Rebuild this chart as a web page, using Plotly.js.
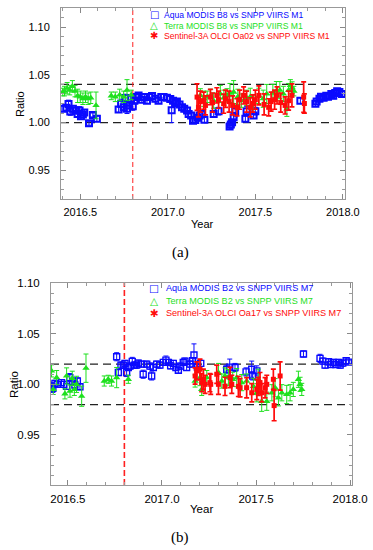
<!DOCTYPE html>
<html><head><meta charset="utf-8">
<script src="https://cdn.plot.ly/plotly-3.0.1.min.js"></script>
<style>html,body{margin:0;padding:0;background:#fff}#chart{width:373px;height:550px}</style>
</head><body><div id="chart"></div>
<script>
// ---------- Panel (a): M1 ----------
const aquaA_x=[2016.405,2016.42,2016.433,2016.443,2016.458,2016.471,2016.485,2016.496,2016.504,2016.515,2016.523,2016.55,2016.572,2016.595,
2016.719,2016.733,2016.748,2016.757,2016.767,2016.778,2016.79,2016.80,2016.809,2016.824,2016.833,2016.852,2016.866,2016.881,2016.896,2016.91,2016.929,2016.947,2016.963,2016.976,2016.995,2017.014,2017.022,2017.03,2017.043,2017.052,2017.067,2017.081,2017.094,2017.11,2017.119,2017.133,2017.144,2017.157,2017.17,2017.182,2017.195,2017.209,
2017.262,2017.29,2017.353,2017.36,2017.367,2017.376,2017.385,2017.443,2017.45,2017.49,2017.50,
2017.757,2017.843,2017.85,2017.866,2017.875,2017.89,2017.905,2017.915,2017.934,2017.945,2017.956,2017.967,2017.98,2017.995];
const aquaA_y=[1.0145,1.0155,1.0195,1.0116,1.0145,1.0127,1.009,1.0127,1.0067,1.0085,1.0106,0.9993,1.008,1.004,
1.0137,1.0198,1.016,1.0257,1.0145,1.018,1.025,1.017,1.023,1.0267,1.0285,1.024,1.0267,1.023,1.0267,1.0278,1.025,1.023,1.0267,1.0267,1.026,1.0246,1.013,1.023,1.0204,1.022,1.019,1.016,1.0145,1.0127,1.009,1.0074,1.002,1.0028,1.005,1.0074,1.009,1.003,
1.009,1.012,0.996,0.998,1.0003,1.0056,1.012,1.004,1.012,1.0074,1.012,
1.023,1.0198,1.022,1.025,1.027,1.026,1.028,1.027,1.030,1.028,1.031,1.0328,1.032,1.030];
const aquaA_err=[0.003,0.003,0.004,0.004,0.003,0.003,0.003,0.004,0.003,0.003,0.003,0.002,0.002,0.003,
0.003,0.004,0.003,0.004,0.005,0.003,0.003,0.004,0.003,0.003,0.003,0.003,0.003,0.003,0.003,0.003,0.003,0.003,0.003,0.003,0.003,0.003,0.013,0.003,0.003,0.003,0.003,0.003,0.003,0.003,0.003,0.003,0.003,0.003,0.003,0.004,0.003,0.003,
0.003,0.004,0.003,0.004,0.003,0.005,0.006,0.003,0.005,0.003,0.004,
0.003,0.003,0.003,0.003,0.003,0.003,0.003,0.003,0.003,0.003,0.003,0.003,0.003,0.003];

const terraA_x=[2016.40,2016.41,2016.425,2016.44,2016.455,2016.47,2016.485,2016.50,2016.515,2016.53,2016.545,2016.56,2016.59,
2016.677,2016.70,2016.725,2016.748,2016.767,2016.791,
2017.186,2017.205,2017.225,2017.245,2017.262,2017.30,2017.32,2017.338,2017.355,2017.376,2017.40,2017.42,2017.45,2017.471,2017.49,2017.52,2017.545,2017.565,2017.60,2017.62,2017.64,2017.66,2017.68,2017.69,2017.70,2017.71,2017.72];
const terraA_y=[1.032,1.033,1.036,1.034,1.038,1.033,1.028,1.027,1.025,1.027,1.025,1.026,1.018,
1.028,1.027,1.029,1.027,1.034,1.029,
1.0285,1.025,1.027,1.028,1.023,1.030,1.026,1.0285,1.031,1.032,1.027,1.023,1.026,1.027,1.0215,1.028,1.025,1.030,1.031,1.033,1.034,1.030,1.0145,1.034,1.039,1.0367,1.033];
const terraA_err=[0.004,0.005,0.006,0.005,0.006,0.006,0.007,0.006,0.006,0.006,0.006,0.006,0.014,
0.004,0.005,0.006,0.006,0.011,0.005,
0.007,0.008,0.006,0.007,0.008,0.009,0.008,0.007,0.010,0.012,0.008,0.007,0.008,0.009,0.008,0.008,0.009,0.010,0.009,0.010,0.009,0.008,0.008,0.007,0.006,0.006,0.005];

const sentA_x=[2017.167,2017.175,2017.186,2017.205,2017.215,2017.243,2017.255,2017.28,2017.29,2017.319,2017.33,2017.35,2017.37,2017.395,2017.41,2017.433,2017.45,2017.471,2017.485,2017.50,2017.52,2017.55,2017.576,2017.59,2017.61,2017.624,2017.645,2017.67,2017.69,2017.709,2017.776,2017.78];
const sentA_y=[1.0267,1.016,1.022,1.023,1.018,1.0267,1.021,1.0285,1.024,1.0198,1.025,1.022,1.018,1.016,1.024,1.0285,1.022,1.016,1.020,1.024,1.0285,1.019,1.016,1.022,1.024,1.0285,1.021,1.018,1.023,1.0285,1.0267,1.020];
const sentA_err=[0.014,0.01,0.011,0.009,0.01,0.008,0.01,0.008,0.009,0.01,0.009,0.011,0.01,0.009,0.01,0.009,0.011,0.01,0.009,0.01,0.01,0.011,0.009,0.01,0.01,0.009,0.01,0.009,0.01,0.012,0.016,0.01];

// ---------- Panel (b): M7 ----------
const aquaB_x=[2016.413,2016.42,2016.431,2016.443,2016.466,2016.478,2016.493,2016.51,2016.525,2016.537,2016.55,2016.564,
2016.759,2016.768,2016.782,2016.794,2016.803,2016.812,2016.821,2016.83,2016.842,2016.853,2016.865,2016.874,2016.892,2016.90,2016.919,2016.936,2016.945,2016.954,2016.972,2016.989,2017.007,2017.021,2017.034,2017.046,2017.06,2017.074,2017.087,2017.096,2017.113,2017.122,2017.131,2017.149,2017.163,2017.17,2017.188,2017.206,
2017.344,2017.36,2017.388,2017.447,2017.477,2017.482,2017.504,
2017.752,2017.84,2017.855,2017.867,2017.885,2017.897,2017.911,2017.924,2017.938,2017.947,2017.961,2017.979,2017.991];
const aquaB_y=[0.998,0.996,1.001,1.000,1.0017,1.000,0.998,1.0067,1.0027,0.9993,1.0033,0.9976,
1.0273,1.0117,1.019,1.019,1.0207,1.0117,1.0167,1.018,1.0227,1.019,1.019,1.021,1.020,1.010,1.020,1.018,1.0083,1.0167,1.020,1.019,1.0217,1.024,1.0217,1.0183,1.0207,1.0167,1.014,1.018,1.0217,1.023,1.0167,1.020,1.0233,1.029,1.017,1.0207,
1.015,1.017,1.0167,1.0123,1.015,1.0083,1.0133,
1.030,1.0257,1.023,1.019,1.0223,1.0197,1.0217,1.0197,1.0217,1.019,1.021,1.0233,1.022];
const aquaB_err=[0.004,0.004,0.003,0.003,0.003,0.003,0.003,0.004,0.003,0.003,0.003,0.003,
0.004,0.003,0.003,0.003,0.003,0.004,0.003,0.003,0.004,0.003,0.003,0.003,0.003,0.004,0.003,0.003,0.004,0.003,0.003,0.003,0.003,0.004,0.003,0.003,0.003,0.003,0.003,0.003,0.003,0.003,0.003,0.003,0.003,0.011,0.003,0.003,
0.004,0.008,0.004,0.004,0.008,0.004,0.005,
0.003,0.004,0.003,0.003,0.003,0.003,0.003,0.003,0.003,0.003,0.003,0.003,0.002];

const terraB_x=[2016.413,2016.422,2016.44,2016.484,2016.493,2016.511,2016.523,2016.534,2016.546,2016.573,2016.596,
2016.693,2016.714,2016.732,2016.759,2016.821,
2017.176,2017.202,2017.211,2017.238,2017.30,2017.318,2017.335,2017.353,2017.376,2017.397,2017.424,2017.45,2017.486,2017.504,2017.512,2017.53,2017.557,2017.584,2017.601,2017.619,2017.637,2017.663,2017.681,2017.698,2017.725,2017.734,2017.743];
const terraB_y=[1.0133,0.995,1.0067,0.9906,1.0083,0.9933,1.006,0.995,1.000,0.9883,1.016,
1.0033,1.005,1.0033,1.0067,1.005,
1.0033,1.0067,0.995,1.0067,1.0117,1.0033,1.0083,1.0067,1.005,1.0067,1.0017,1.0033,0.998,0.9917,1.005,0.9833,0.9833,0.9917,0.9967,0.9867,0.9917,0.990,0.9917,0.995,1.005,1.000,0.995];
const terraB_err=[0.006,0.005,0.007,0.005,0.008,0.006,0.007,0.006,0.008,0.01,0.014,
0.005,0.004,0.005,0.01,0.004,
0.006,0.008,0.006,0.007,0.009,0.007,0.008,0.008,0.007,0.009,0.008,0.007,0.008,0.009,0.01,0.01,0.009,0.008,0.009,0.008,0.008,0.009,0.008,0.007,0.008,0.007,0.006];

const sentB_x=[2017.176,2017.185,2017.202,2017.211,2017.22,2017.229,2017.255,2017.259,2017.291,2017.30,2017.335,2017.362,2017.371,2017.406,2017.415,2017.45,2017.477,2017.504,2017.512,2017.521,2017.53,2017.548,2017.557,2017.592,2017.596,2017.628];
const sentB_y=[1.0083,1.0133,1.015,1.0017,1.005,1.000,1.0017,1.000,1.010,1.000,0.998,1.0067,1.000,0.998,0.9967,0.9967,0.9917,0.995,0.998,1.0017,0.9917,0.9967,1.000,1.005,0.979,1.0083];
const sentB_err=[0.008,0.009,0.01,0.009,0.01,0.009,0.009,0.01,0.009,0.01,0.009,0.01,0.009,0.01,0.009,0.01,0.009,0.01,0.009,0.01,0.009,0.01,0.009,0.01,0.015,0.014];

// reference lines, ticks and labels
const refA=[1.00,1.04], refB=[0.98,1.02], eventYear=[2016.8];
const yTicksA=[0.95,1.00,1.05,1.10], yTicksB=[0.95,1.00,1.05,1.10];
const legendA=['Aqua MODIS B8 vs SNPP VIIRS M1','Terra MODIS B8 vs SNPP VIIRS M1','Sentinel-3A OLCI Oa02 vs SNPP VIIRS M1'];
const legendB=['Aqua MODIS B2 vs SNPP VIIRS M7','Terra MODIS B2 vs SNPP VIIRS M7','Sentinel-3A OLCI Oa17 vs SNPP VIIRS M7'];
const legendSym=['\u25A1','\u25B3','\u2731'];
const colors=['#0a0aff','#1ee01e','#ff0a0a'];

const W=373,H=550;
const px=v=>v/W, py=v=>1-v/H;

function tr(x,y,e,ax,ay,kind,big){
  const c=colors[kind];
  const m = kind===0 ? {symbol:'square-open',size:big?6:6,color:c,line:{width:big?2:1.4,color:c}}
          : kind===1 ? {symbol:'triangle-up',size:6.5,color:c,line:{width:0}}
          : {symbol:'square',size:5,color:c,line:{width:0}};
  return {type:'scatter',mode:'markers',x:x,y:y,xaxis:ax,yaxis:ay,marker:m,showlegend:false,
    error_y:{type:'data',array:e,visible:true,color:c,thickness:kind===2?1.7:1,width:2.5}};
}
const data=[
  tr(aquaA_x,aquaA_y,aquaA_err,'x','y',0,true),
  tr(terraA_x,terraA_y,terraA_err,'x','y',1),
  tr(sentA_x,sentA_y,sentA_err,'x','y',2),
  tr(aquaB_x,aquaB_y,aquaB_err,'x2','y2',0,false),
  tr(terraB_x,terraB_y,terraB_err,'x2','y2',1),
  tr(sentB_x,sentB_y,sentB_err,'x2','y2',2)
];

const ff='Liberation Sans, Arial, sans-serif';
function xax(dom,rng,fs){return {domain:dom,range:rng,tickmode:'linear',tick0:2016.5,dtick:0.5,tickformat:'.1f',
  ticks:'inside',ticklen:5,tickcolor:'#888',showline:true,linecolor:'#999',linewidth:1,mirror:'ticks',
  showgrid:false,zeroline:false,tickfont:{family:ff,size:fs,color:'#000'},ticklabelstandoff:3,
  minor:{ticks:'inside',ticklen:3,tickcolor:'#999',tick0:2016.5,dtick:0.1,showgrid:false}};}
function yax(dom,rng,anchor,tv,fs){return {domain:dom,range:rng,anchor:anchor,tickmode:'array',tickvals:tv,tickformat:'.2f',
  ticks:'inside',ticklen:5,tickcolor:'#888',showline:true,linecolor:'#999',linewidth:1,mirror:'ticks',
  showgrid:false,zeroline:false,tickfont:{family:ff,size:fs,color:'#000'},ticklabelstandoff:8,
  minor:{ticks:'inside',ticklen:3,tickcolor:'#999',tickmode:'linear',tick0:0.95,dtick:0.01,showgrid:false}};}

const shapes=[];
refA.forEach(v=>shapes.push({type:'line',xref:'x domain',yref:'y',x0:0,x1:1,y0:v,y1:v,layer:'below',line:{color:'#222',width:1.2,dash:'8px,5px'}}));
refB.forEach(v=>shapes.push({type:'line',xref:'x2 domain',yref:'y2',x0:0,x1:1,y0:v,y1:v,layer:'below',line:{color:'#222',width:1.2,dash:'8px,5px'}}));
eventYear.forEach(v=>{
  shapes.push({type:'line',xref:'x',yref:'y domain',x0:v,x1:v,y0:0,y1:1,layer:'below',line:{color:'#ff2020',width:1,dash:'5px,3px'}});
  shapes.push({type:'line',xref:'x2',yref:'y2 domain',x0:v,x1:v,y0:0,y1:1,layer:'below',line:{color:'#ff2020',width:1.6,dash:'6px,3px'}});
});

const ann=[];
function txt(t,x,y,opt){ann.push(Object.assign({text:t,xref:'paper',yref:'paper',x:px(x),y:py(y),showarrow:false,xanchor:'center',yanchor:'middle',font:{family:ff,size:11,color:'#000'}},opt||{}));}
txt('Ratio',20,104,{textangle:-90});
txt('Year',202,224);
txt('Ratio',14,384,{textangle:-90,font:{family:ff,size:11.5,color:'#000'}});
txt('Year',201,509,{font:{family:ff,size:11.5,color:'#000'}});
const capFont={family:'Liberation Serif, Times New Roman, serif',size:15,color:'#000'};
txt('(a)',180,253,{font:capFont});
txt('(b)',180,537,{font:capFont});
const rowsA=[15,25.5,36], rowsB=[288,301,313];
legendA.forEach((t,i)=>{txt(legendSym[i],154,rowsA[i],{font:{family:'DejaVu Sans',size:10,color:colors[i]}});txt(t,162,rowsA[i],{xanchor:'left',font:{family:ff,size:8.6,color:colors[i]}});});
legendB.forEach((t,i)=>{txt(legendSym[i],154,rowsB[i],{font:{family:'DejaVu Sans',size:10.5,color:colors[i]}});txt(t,164,rowsB[i],{xanchor:'left',font:{family:ff,size:9.1,color:colors[i]}});});

const layout={width:W,height:H,margin:{l:0,r:0,t:0,b:0},paper_bgcolor:'#fff',plot_bgcolor:'#fff',showlegend:false,
  xaxis:Object.assign(xax([px(61),px(345)],[2016.39,2018.012],11),{anchor:'y'}),
  yaxis:yax([py(199),py(8)],[0.92,1.12],'x',yTicksA,11),
  xaxis2:Object.assign(xax([px(51),px(352)],[2016.41,2018.01],11.5),{anchor:'y2'}),
  yaxis2:yax([py(485),py(283)],[0.9005,1.1002],'x2',yTicksB,11.5),
  shapes:shapes,annotations:ann};
Plotly.newPlot('chart',data,layout,{staticPlot:true,displayModeBar:false});
</script></body></html>
